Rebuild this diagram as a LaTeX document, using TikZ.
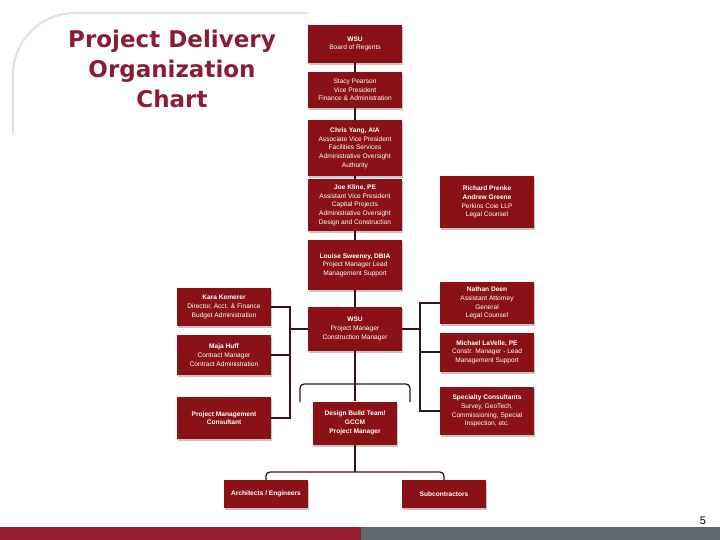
\documentclass[tikz,border=0pt]{standalone}
\usepackage{fontspec}
\setmainfont{Liberation Sans}
\newfontfamily\titlefont{DejaVu Sans}
\usetikzlibrary{shadows}
\definecolor{boxred}{RGB}{138,18,22}
\definecolor{titlered}{RGB}{140,28,50}
\definecolor{barred}{RGB}{150,30,48}
\definecolor{bargray}{RGB}{93,103,110}
\definecolor{linedark}{RGB}{55,20,20}
\tikzset{
  orgbox/.style={draw=none, fill=boxred, text=white, align=center,
    minimum width=94pt, inner sep=2pt,
    font=\fontsize{6.6}{8.7}\selectfont,
    drop shadow={opacity=0.45, shadow xshift=1.2pt, shadow yshift=-2pt}},
  link/.style={draw=linedark, line width=1.3pt}
}
\begin{document}
\begin{tikzpicture}[x=1pt, y=-1pt]
    \useasboundingbox (0,0) rectangle (720,540);
    % Titulo
    \draw[black!12, line width=2pt] (13,135) -- (13,75) arc[start angle=180, end angle=270, radius=62] -- (308,13);
    \node[text=titlered, align=center, font=\titlefont\bfseries\fontsize{23}{30}\selectfont] (title) at (172,69) {Project Delivery\\Organization\\Chart};

    % Linha central
    \node[orgbox, minimum height=38pt] (board) at (355,44) {\textbf{WSU}\\Board of Regents};
    \node[orgbox, minimum height=36pt] (stacy) at (355,90) {Stacy Pearson\\Vice President\\Finance \& Administration};
    \node[orgbox, minimum height=56pt] (chris) at (355,148) {\textbf{Chris Yang, AIA}\\Associate Vice President\\Facilities Services\\Administrative Oversight\\Authority};
    \node[orgbox, minimum height=52pt] (joe) at (355,205) {\textbf{Joe Kline, PE}\\Assistant Vice President\\Capital Projects\\Administrative Oversight\\Design and Construction};
    \node[orgbox, minimum height=50pt] (louise) at (355,265) {\textbf{Louise Sweeney, DBIA}\\Project Manager Lead\\Management Support};
    \node[orgbox, minimum height=44pt] (wsu) at (355,329) {\textbf{WSU}\\Project Manager\\Construction Manager};
    \node[orgbox, minimum width=84pt, minimum height=43pt] (dbt) at (355,423) {\textbf{Design Build Team/}\\\textbf{GCCM}\\\textbf{Project Manager}};

    % Lado direito
    \node[orgbox, minimum height=52pt] (richard) at (487,202) {\textbf{Richard Prenke}\\\textbf{Andrew Greene}\\Perkins Coie LLP\\Legal Counsel};
    \node[orgbox, minimum height=42pt] (nathan) at (487,303) {\textbf{Nathan Deen}\\Assistant Attorney\\General\\Legal Counsel};
    \node[orgbox, minimum height=39pt] (michael) at (487,352) {\textbf{Michael LaVelle, PE}\\Constr. Manager - Lead\\Management Support};
    \node[orgbox, minimum height=48pt] (spec) at (487,411) {\textbf{Specialty Consultants}\\Survey, GeoTech,\\Commissioning, Special\\Inspection, etc.};

    % Lado esquerdo
    \node[orgbox, minimum height=38pt] (kara) at (224,307) {\textbf{Kara Kemerer}\\Director, Acct. \& Finance\\Budget Administration};
    \node[orgbox, minimum height=40pt] (maja) at (224,355) {\textbf{Maja Huff}\\Contract Manager\\Contract Administration};
    \node[orgbox, minimum height=42pt] (pmc) at (224,418) {\textbf{Project Management}\\\textbf{Consultant}};

    % Base
    \node[orgbox, minimum width=84pt, minimum height=28pt] (ae) at (266,494) {\textbf{Architects / Engineers}};
    \node[orgbox, minimum width=84pt, minimum height=28pt] (sub) at (444,494) {\textbf{Subcontractors}};

    % Conexoes
    \coordinate (lb) at (290,418);
    \coordinate (rb) at (420,411);
    \coordinate (split) at (355,472);
    \draw[link] (board) -- (stacy);
    \draw[link] (stacy) -- (chris);
    \draw[link] (chris) -- (joe);
    \draw[link] (joe) -- (louise);
    \draw[link] (louise) -- (wsu);
    \draw[link] (wsu) -- (dbt);
    \draw[link] (kara.east) -| (lb) -- (pmc.east);
    \draw[link] (maja.east) -- (maja.east -| lb);
    \draw[link] (wsu.west) -- (wsu.west -| lb);
    \draw[link] (nathan.west) -| (rb) -- (spec.west);
    \draw[link] (michael.west) -- (michael.west -| rb);
    \draw[link] (wsu.east) -- (wsu.east -| rb);
    \draw[link, rounded corners=4pt] (300,402) -- (300,384) -- (410,384) -- (410,402);
    \draw[link] (dbt) -- (split);
    \draw[link, rounded corners=4pt] (ae.north) |- (split) -| (sub.north);

    % Rodape
    \fill[barred] (0,527) rectangle (361,540);
    \fill[bargray] (361,527) rectangle (720,540);
    \node[font=\fontsize{11}{12}\selectfont] (page) at (703,521) {5};
\end{tikzpicture}
\end{document}
